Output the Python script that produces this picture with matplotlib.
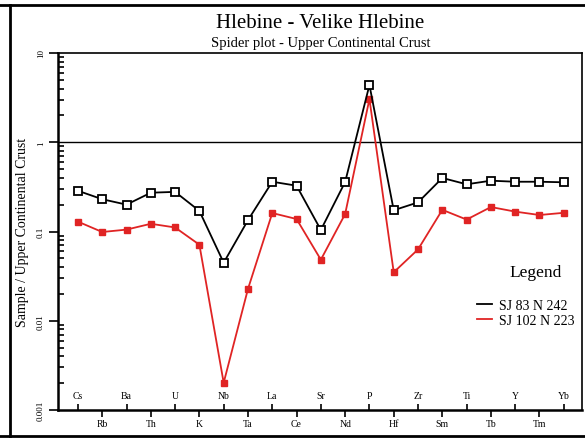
import matplotlib
matplotlib.use('Agg')
import matplotlib.pyplot as plt
from matplotlib.lines import Line2D
from matplotlib.ticker import FixedLocator, LogLocator, NullFormatter

plt.rcParams['font.family'] = ['Liberation Serif', 'DejaVu Serif']

elements = ['Cs', 'Rb', 'Ba', 'Th', 'U', 'K', 'Nb', 'Ta', 'La', 'Ce', 'Sr',
            'Nd', 'P', 'Hf', 'Zr', 'Sm', 'Ti', 'Tb', 'Y', 'Tm', 'Yb']

sj83 = [0.286, 0.23, 0.20, 0.272, 0.278, 0.17, 0.0447, 0.134, 0.361, 0.326,
        0.104, 0.359, 4.38, 0.173, 0.212, 0.398, 0.338, 0.371, 0.361, 0.361, 0.356]
sj102 = [0.129, 0.0987, 0.105, 0.122, 0.111, 0.0711, 0.00202, 0.0227, 0.161,
         0.138, 0.0483, 0.157, 3.05, 0.0349, 0.063, 0.175, 0.136, 0.188, 0.167,
         0.153, 0.162]

x = list(range(len(elements)))
red = '#e02424'

fig = plt.figure(figsize=(5.85, 4.39), dpi=100)
ax = fig.add_axes([58 / 585, 1 - 411 / 439, 524 / 585, 357 / 439])

ax.plot(x, sj83, color='black', lw=1.3, marker='s', ms=5.5, mfc='white',
        mec='black', mew=1.3, label='SJ 83 N 242', zorder=4)
ax.plot(x, sj102, color=red, lw=1.3, marker='s', ms=4.5, mfc=red,
        mec=red, label='SJ 102 N 223', zorder=3)
ax.axhline(1, color='black', lw=1)

ax.set_yscale('log')
ax.set_ylim(0.001, 10)
ax.set_xlim(-0.82, 20.75)

# y axis: outward majors, inward minors, rotated labels
ax.yaxis.set_major_locator(FixedLocator([0.001, 0.01, 0.1, 1, 10]))
ax.set_yticklabels(['0.001', '0.01', '0.1', '1', '10'], rotation=90,
                   va='center', fontsize=6.5)
ax.yaxis.set_minor_locator(LogLocator(base=10, subs=range(2, 10)))
ax.yaxis.set_minor_formatter(NullFormatter())
ax.tick_params(axis='y', which='major', direction='out', length=6.5, width=1.2, pad=3)
ax.tick_params(axis='y', which='minor', direction='in', length=4, width=1.2)

# x axis: alternate element labels inside / outside
ax.xaxis.set_major_locator(FixedLocator(x[1::2]))
ax.set_xticklabels(elements[1::2], fontsize=7)
ax.xaxis.set_minor_locator(FixedLocator(x[0::2]))
ax.set_xticklabels(elements[0::2], minor=True, fontsize=7)
ax.tick_params(axis='x', which='major', direction='out', length=5, width=1.2, pad=1.5)
ax.tick_params(axis='x', which='minor', direction='in', length=4.5, width=1.2, pad=-14)

for s in ax.spines.values():
    s.set_linewidth(1.2)
ax.spines['left'].set_linewidth(1.8)
ax.spines['bottom'].set_linewidth(1.8)

ax.set_ylabel('Sample / Upper Continental Crust', fontsize=10)
ax.yaxis.set_label_coords(-0.056, 0.5)

fig.text(320 / 585, 1 - 24 / 439, 'Hlebine - Velike Hlebine', fontsize=15,
         ha='center', va='center')
fig.text(321 / 585, 1 - 43 / 439, 'Spider plot - Upper Continental Crust',
         fontsize=10.5, ha='center', va='center')

ax.text(0.912, 0.387, 'Legend', transform=ax.transAxes, fontsize=12.5,
        ha='center', va='center')
ax.legend(loc='center left', bbox_to_anchor=(0.8, 0.272), frameon=False,
          fontsize=10, handlelength=1.1, handletextpad=0.45, labelspacing=0.12,
          borderpad=0, borderaxespad=0)
leg = ax.get_legend()
for h in leg.legend_handles:
    h.set_marker('')

# outer frame lines
fig.add_artist(Line2D([0, 1], [1 - 6 / 439] * 2, color='black', lw=2,
                      transform=fig.transFigure))
fig.add_artist(Line2D([0, 1], [1 - 437 / 439] * 2, color='black', lw=2,
                      transform=fig.transFigure))
fig.add_artist(Line2D([10 / 585] * 2, [1 - 437 / 439, 1 - 6 / 439], color='black',
                      lw=2, transform=fig.transFigure))

fig.savefig('out.png', dpi=100)
